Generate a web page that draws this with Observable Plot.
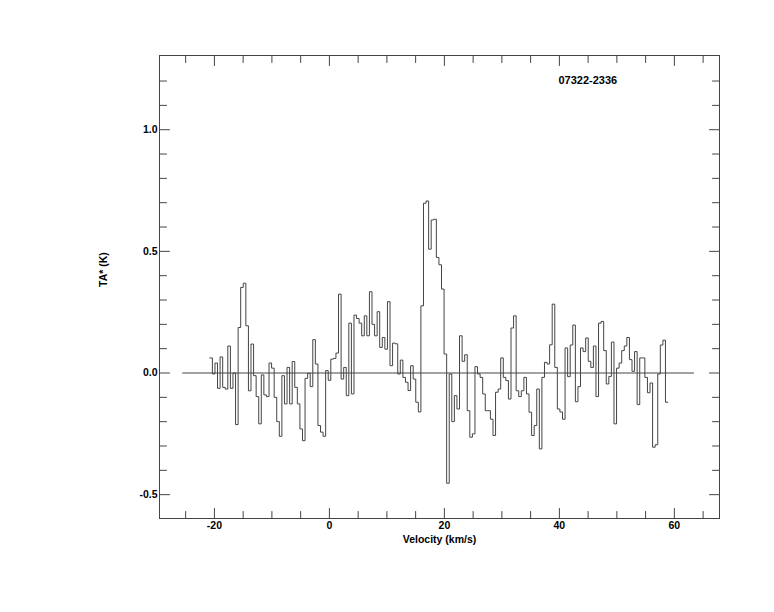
<!DOCTYPE html>
<html><head><meta charset="utf-8">
<script src="https://cdn.jsdelivr.net/npm/d3@7"></script>
<script src="https://cdn.jsdelivr.net/npm/@observablehq/plot@0.6"></script>
<style>body{margin:0;background:#fff}#chart{position:absolute;left:0;top:0}</style>
</head><body><div id="chart"></div>
<script>
const sourceName = "07322-2336";
const xLabel = "Velocity (km/s)";
const yLabel = "TA* (K)";
const vStart = -20.8;   // left edge of first channel (km/s)
const vEnd = 58.9;      // right edge of last channel (km/s)
const ta = [
 0.062,-0.004,0.041,-0.063,0.066,-0.059,-0.066,0.111,-0.063,0.0,-0.212,0.187,0.352,0.369,0.194,-0.073,0.119,-0.011,-0.097,-0.209,
 -0.008,-0.09,-0.097,0.041,0.02,-0.1,-0.2,-0.26,-0.011,-0.127,0.023,-0.127,0.047,-0.059,-0.127,-0.23,-0.278,-0.022,-0.001,-0.056,
 0.137,0.037,-0.216,-0.243,-0.26,
 0.01,-0.03,0.057,0.06,0.082,0.324,-0.025,0.023,-0.093,0.205,-0.086,0.238,0.224,0.205,0.153,0.235,0.153,0.334,0.2,
 0.153,0.252,0.105,0.146,0.098,0.293,0.03,0.123,0.12,-0.004,0.053,-0.018,-0.038,-0.072,0.03,-0.025,-0.12,-0.16,0.276,
 0.698,0.707,0.509,0.629,0.632,0.475,0.445,0.345,0.078,-0.453,
 -0.004,-0.2,-0.093,-0.148,0.153,0.048,0.075,-0.155,-0.264,-0.25,0.026,-0.004,-0.018,-0.086,-0.155,-0.155,-0.19,-0.257,-0.079,-0.066,
 0.062,-0.018,-0.031,-0.107,0.185,0.235,-0.073,-0.097,-0.073,-0.018,-0.086,-0.161,-0.257,-0.216,-0.066,-0.312,-0.018,0.044,0.037,0.116,
 0.283,0.023,-0.148,
 -0.16,-0.19,0.103,-0.015,0.115,0.197,-0.118,-0.056,0.103,0.088,0.144,0.048,0.023,0.111,-0.097,0.205,0.212,0.092,-0.045,-0.014,
 0.127,-0.209,0.02,0.041,0.092,0.111,0.146,0.055,0.007,0.088,-0.13,0.062,0.062,-0.018,-0.081,-0.041,-0.305,-0.295,-0.004,0.115,
 0.135,-0.12
];
const xMajor = [-20, 0, 20, 40, 60];
const xMinor = [-25, -15, -10, -5, 5, 10, 15, 25, 30, 35, 45, 50, 55, 65];
const yMajor = [-0.5, 0.0, 0.5, 1.0];
const yMinor = [-0.4, -0.3, -0.2, -0.1, 0.1, 0.2, 0.3, 0.4, 0.6, 0.7, 0.8, 0.9, 1.1, 1.2];
const baseline = [-25.5, 63.5];

const dv = (vEnd - vStart) / ta.length;
const chan = ta.map((t, i) => ({v: vStart + i * dv, t}));
chan.push({v: vEnd, t: ta[ta.length - 1]});

const ink = "#444";
const font = "'Liberation Sans', Arial, Helvetica, sans-serif";
const tickShape = {draw(ctx, l) { ctx.moveTo(0, 0); ctx.lineTo(0, -l); }};
const tk = (fn, data, anchor, rot, len) =>
  fn(data, {[fn === Plot.vectorX ? "x" : "y"]: d => d, frameAnchor: anchor, rotate: rot,
    length: len, anchor: "start", shape: tickShape, stroke: ink, strokeWidth: 1});

const chart = Plot.plot({
  width: 774, height: 612,
  marginLeft: 159, marginRight: 55, marginTop: 55, marginBottom: 94,
  x: {domain: [-29.55, 67.85], axis: null},
  y: {domain: [-0.598, 1.305], axis: null},
  style: {fontFamily: font, background: "#fff"},
  marks: [
    Plot.frame({stroke: ink}),
    tk(Plot.vectorX, xMajor, "bottom", 0, 10),
    tk(Plot.vectorX, xMinor, "bottom", 0, 7),
    tk(Plot.vectorX, xMajor, "top", 180, 10),
    tk(Plot.vectorX, xMinor, "top", 180, 7),
    tk(Plot.vectorY, yMajor, "left", 90, 10),
    tk(Plot.vectorY, yMinor, "left", 90, 7),
    tk(Plot.vectorY, yMajor, "right", -90, 10),
    tk(Plot.vectorY, yMinor, "right", -90, 7),
    Plot.ruleY([0], {x1: baseline[0], x2: baseline[1], stroke: ink, strokeWidth: 1}),
    Plot.line(chan, {x: "v", y: "t", curve: "step-after", stroke: ink, strokeWidth: 1}),
    Plot.text(xMajor, {x: d => d, frameAnchor: "bottom", dy: 7, lineAnchor: "middle",
      text: d => String(d), fontSize: 10.5, fontWeight: "bold", fill: "#000"}),
    Plot.text(yMajor, {y: d => d, frameAnchor: "left", dx: -2, textAnchor: "end",
      text: d => d.toFixed(1), fontSize: 10.5, fontWeight: "bold", fill: "#000"}),
    Plot.text([xLabel], {frameAnchor: "bottom", dy: 21, lineAnchor: "middle", text: d => d,
      fontSize: 10.5, fontWeight: "bold", fill: "#000"}),
    Plot.text([yLabel], {frameAnchor: "left", dx: -56, rotate: -90, text: d => d,
      fontSize: 10.5, fontWeight: "bold", fill: "#000"}),
    Plot.text([sourceName], {frameAnchor: "top-left", dx: 399, dy: 21, textAnchor: "start",
      text: d => d, fontSize: 11, fontWeight: "bold", fill: "#000"})
  ]
});
document.getElementById("chart").append(chart);
</script></body></html>
